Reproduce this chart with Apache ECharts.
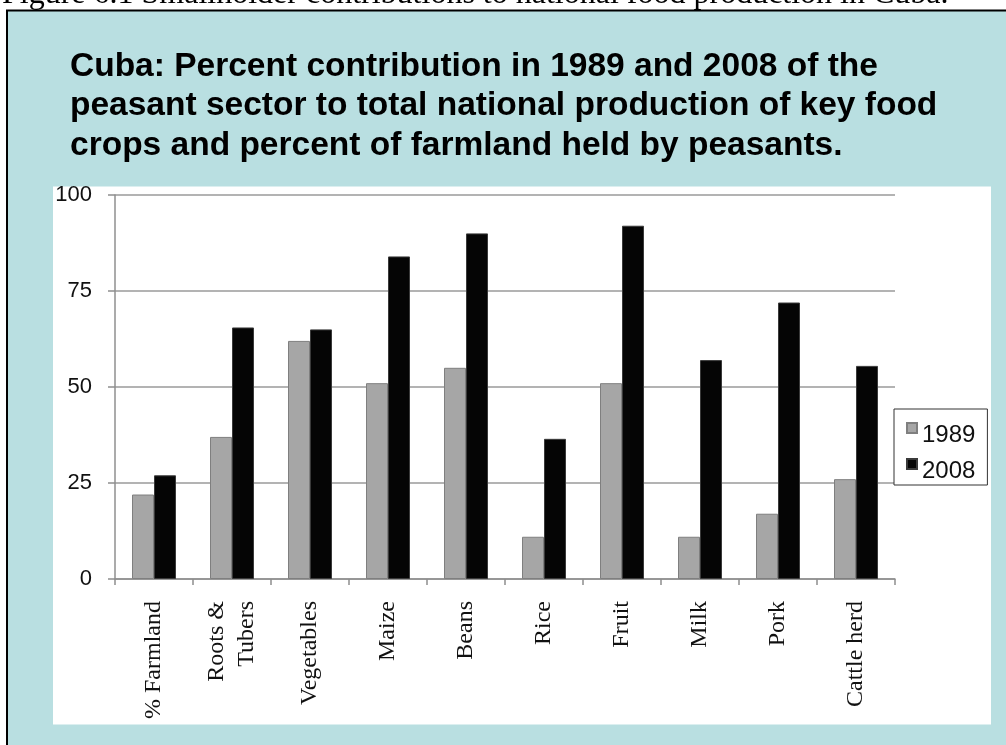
<!DOCTYPE html>
<html>
<head>
<meta charset="utf-8">
<script src="https://cdn.jsdelivr.net/npm/echarts@6/dist/echarts.min.js"></script>
<style>
  html, body { margin: 0; padding: 0; background: #fff; }
  #main { width: 1006px; height: 745px; }
</style>
</head>
<body>
<div id="main"></div>
<script>
// categories on the x axis
const categories = ["% Farmland", "Roots &\nTubers", "Vegetables", "Maize", "Beans", "Rice", "Fruit", "Milk", "Pork", "Cattle herd"];
// percent contribution by the peasant sector
const values1989 = [22, 37, 62, 51, 55, 11, 51, 11, 17, 26];
const values2008 = [27, 65.5, 65, 84, 90, 36.5, 92, 57, 72, 55.5];
const yTicks = [0, 25, 50, 75, 100];

const captionText = "Figure 6.1 Smallholder contributions to national food production in Cuba.";
const titleText = "Cuba: Percent contribution in 1989 and 2008 of the\npeasant sector to total national production of key food\ncrops and percent of farmland held by peasants.";

const chart = echarts.init(document.getElementById("main"));

const axisGray = "#8f8f8f";

const option = {
  animation: false,
  backgroundColor: "#fff",
  title: {
    text: titleText,
    left: 70,
    top: 47,
    padding: 0,
    textStyle: {
      fontFamily: "Liberation Sans",
      fontWeight: "bold",
      fontSize: 33.5,
      lineHeight: 39.5,
      color: "#000"
    }
  },
  graphic: [
    {
      // caption of the figure, cut off by the top of the page
      type: "text",
      z: -10,
      x: 2,
      y: -5.5,
      style: {
        text: captionText,
        font: "32px 'Liberation Serif'",
        fill: "#000",
        verticalAlign: "middle"
      }
    },
    {
      // blue frame
      type: "rect",
      z: -9,
      shape: { x: 7, y: 10.5, width: 1100, height: 800 },
      style: { fill: "#b9dfe1", stroke: "#000", lineWidth: 2 }
    },
    {
      // white chart panel
      type: "rect",
      z: -8,
      shape: { x: 53, y: 186.5, width: 938, height: 538 },
      style: { fill: "#fff" }
    }
  ],
  legend: {
    data: ["1989", "2008"],
    orient: "vertical",
    left: 894,
    top: 409,
    padding: [13, 12, 1, 12],
    borderColor: "#333",
    borderWidth: 1,
    backgroundColor: "#fff",
    itemWidth: 10,
    itemHeight: 24,
    itemGap: 10,
    icon: "path://M0,0L10,0L10,10L0,10ZM0,24L0,24",
    textStyle: {
      fontFamily: "Liberation Sans",
      fontSize: 24,
      lineHeight: 24,
      color: "#111"
    }
  },
  grid: {
    left: 115,
    top: 195,
    width: 780,
    height: 384
  },
  xAxis: {
    type: "category",
    data: categories,
    axisLine: { lineStyle: { color: axisGray, width: 1.5 } },
    axisTick: { show: true, length: 6, interval: 0, lineStyle: { color: axisGray, width: 1.5 } },
    axisLabel: {
      interval: 0,
      rotate: 90,
      margin: 22,
      fontFamily: "Liberation Serif",
      fontSize: 24,
      lineHeight: 30,
      color: "#111"
    }
  },
  yAxis: {
    type: "value",
    min: yTicks[0],
    max: yTicks[yTicks.length - 1],
    interval: 25,
    axisLine: { show: true, lineStyle: { color: axisGray, width: 1.5 } },
    axisTick: { show: true, length: 7, lineStyle: { color: axisGray, width: 1.5 } },
    splitLine: { lineStyle: { color: "#9a9a9a", width: 1.5 } },
    axisLabel: {
      margin: 23,
      fontFamily: "Liberation Sans",
      fontSize: 22,
      color: "#111"
    }
  },
  series: [
    {
      name: "1989",
      type: "bar",
      data: values1989,
      barWidth: 22,
      barGap: "0%",
      itemStyle: { color: "#a6a6a6", borderColor: "#7f7f7f", borderWidth: 1 }
    },
    {
      name: "2008",
      type: "bar",
      data: values2008,
      barWidth: 22,
      itemStyle: { color: "#050505", borderColor: "#3a3a3a", borderWidth: 1 }
    }
  ]
};

chart.setOption(option);
</script>
</body>
</html>
